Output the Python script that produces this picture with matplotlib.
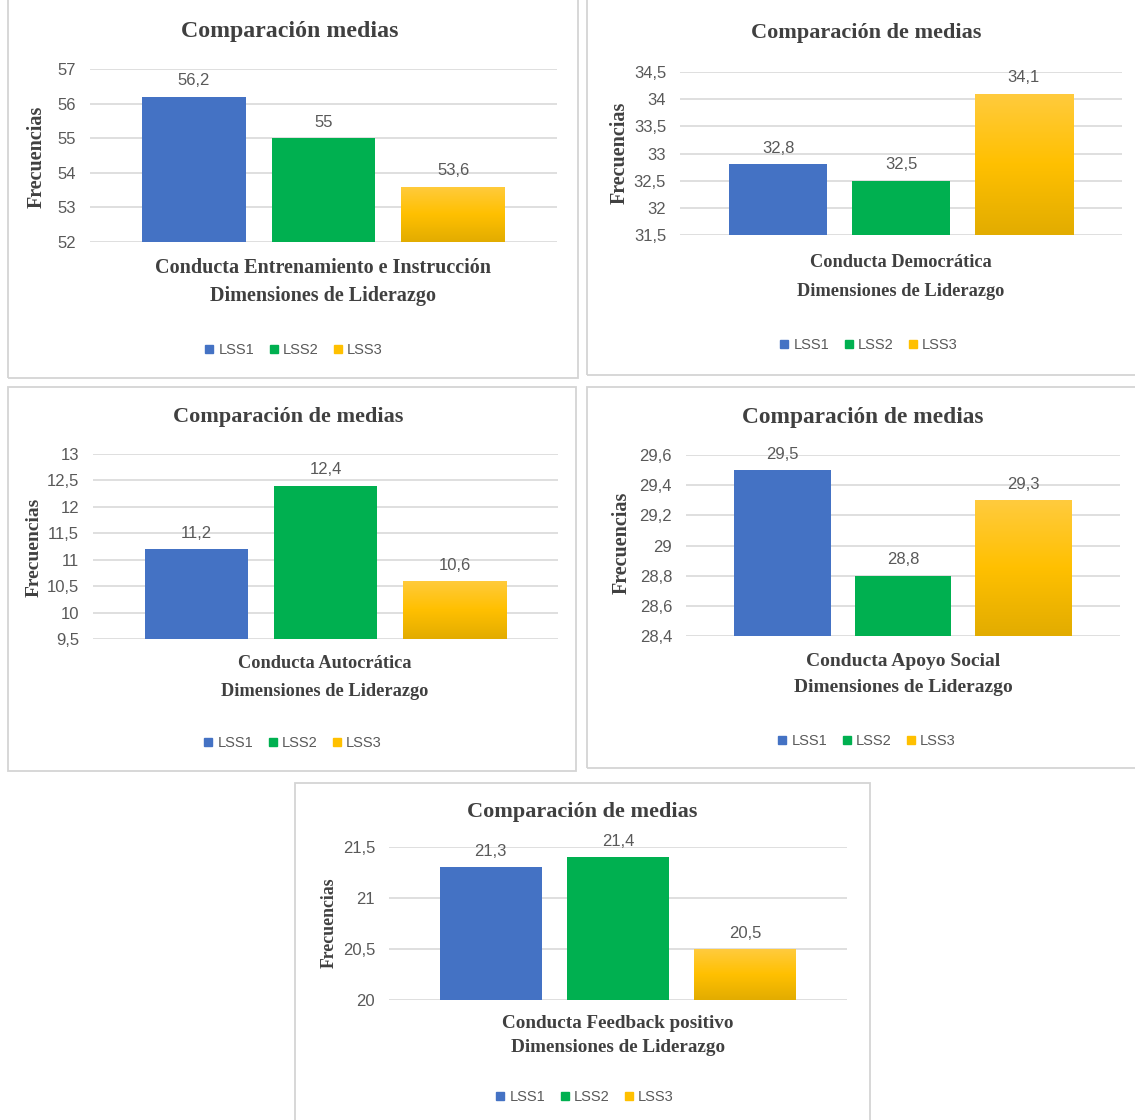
import numpy as np
import matplotlib
matplotlib.use("Agg")
import matplotlib.pyplot as plt
from matplotlib.colors import LinearSegmentedColormap
from matplotlib.lines import Line2D
from matplotlib.patches import Rectangle
from matplotlib.ticker import FuncFormatter

# ---------------- datos ----------------
SERIES = ['LSS1', 'LSS2', 'LSS3']
TITLES = ['Comparación medias', 'Comparación de medias', 'Comparación de medias',
          'Comparación de medias', 'Comparación de medias']
DIMENSIONS = ['Conducta Entrenamiento e Instrucción', 'Conducta Democrática',
              'Conducta Autocrática', 'Conducta Apoyo Social', 'Conducta Feedback positivo']
X_LABEL = 'Dimensiones de Liderazgo'
Y_LABEL = 'Frecuencias'

entrenamiento = [56.2, 55, 53.6]
democratica = [32.8, 32.5, 34.1]
autocratica = [11.2, 12.4, 10.6]
apoyo_social = [29.5, 28.8, 29.3]
feedback = [21.3, 21.4, 20.5]
VALUES = [entrenamiento, democratica, autocratica, apoyo_social, feedback]

# ejes (min, max, paso)
Y_RANGES = [(52, 57, 1), (31.5, 34.5, 0.5), (9.5, 13, 0.5), (28.4, 29.6, 0.2), (20, 21.5, 0.5)]

# ---------------- estilo ----------------
W, H = 1135, 1120
BLUE, GREEN, YELLOW = '#4472C4', '#00B050', '#FFC000'
YELLOW_CMAP = LinearSegmentedColormap.from_list('amarillo', ['#E2AC00', '#FFC000', '#FFCB3E'])
GRID = '#d9d9d9'
TXT = '#404040'
TICK = '#595959'
BORDER = '#d4d4d4'

SERIF = 'Liberation Serif'
plt.rcParams['font.family'] = ['Liberation Sans', 'DejaVu Sans']

# posiciones en pixeles de cada panel
LAYOUT = [
    dict(box=(8, -5, 578, 378), ax=(90, 557, 69, 242), title=(290, 32, 17.2),
         ylab=(37, 157, 14.5), cat=(323, 268, 296, 14.5), leg=(294, 350)),
    dict(box=(587, -5, 1140, 375), ax=(680, 1122, 72, 235), title=(866, 33, 16),
         ylab=(620, 153, 14.5), cat=(901, 262, 292, 13.2), leg=(869, 345)),
    dict(box=(8, 387, 576, 771), ax=(93, 558, 454, 639), title=(288, 417, 16),
         ylab=(34, 547, 14), cat=(325, 664, 692, 13.2), leg=(293, 743)),
    dict(box=(587, 387, 1140, 768), ax=(686, 1120, 455, 636), title=(863, 417, 16.8),
         ylab=(622, 543, 14.5), cat=(903, 661, 688, 14), leg=(867, 741)),
    dict(box=(295, 783, 870, 1125), ax=(389, 847, 847, 1000), title=(582, 812, 16),
         ylab=(329, 923, 12.8), cat=(618, 1023, 1048, 13.8), leg=(585, 1097)),
]

fig = plt.figure(figsize=(W / 100, H / 100), dpi=100)
fig.patch.set_facecolor('white')

comma = FuncFormatter(lambda v, p: f"{v:g}".replace('.', ','))


def fx(px):
    return px / W


def fy(py):
    return 1 - py / H


for vals, title, dim, (lo, hi, step), lay in zip(VALUES, TITLES, DIMENSIONS, Y_RANGES, LAYOUT):
    bx0, by0, bx1, by1 = lay['box']
    fig.add_artist(Rectangle((fx(bx0), fy(by1)), fx(bx1 - bx0), (by1 - by0) / H,
                             transform=fig.transFigure, fill=False, edgecolor=BORDER, lw=1.3))

    ax0, ax1, aytop, aybot = lay['ax']
    ax = fig.add_axes([fx(ax0), fy(aybot), fx(ax1 - ax0), (aybot - aytop) / H])

    x = np.arange(len(SERIES)) - 1
    heights = [v - lo for v in vals]
    bars = ax.bar(x, heights, bottom=lo, width=0.8, color=[BLUE, GREEN, YELLOW], zorder=2)

    # degradado de la barra amarilla
    p = bars[2]
    img = ax.imshow(np.linspace(0, 1, 256).reshape(-1, 1), cmap=YELLOW_CMAP, origin='lower',
                    aspect='auto', zorder=2.1,
                    extent=(p.get_x(), p.get_x() + p.get_width(), p.get_y(), p.get_y() + p.get_height()))
    img.set_clip_path(p)

    for xi, v in zip(x, vals):
        ax.annotate(f"{v:g}".replace('.', ','), (xi, v), xytext=(0, 6), textcoords='offset points',
                    ha='center', va='bottom', fontsize=12, color=TICK, zorder=3)

    ax.set_xlim(-1.8, 1.8)
    ax.set_ylim(lo, hi)
    ax.set_yticks(np.round(np.arange(lo, hi + step / 2, step), 2))
    ax.yaxis.set_major_formatter(comma)
    ax.set_xticks([])
    ax.tick_params(axis='y', length=0, pad=10, labelsize=12, labelcolor=TICK)
    ax.yaxis.grid(True, color=GRID, lw=1.2)
    ax.set_axisbelow(True)
    for s in ax.spines.values():
        s.set_visible(False)

    tx, ty, ts = lay['title']
    fig.text(fx(tx), fy(ty), title, ha='center', va='center', fontsize=ts,
             family=SERIF, weight='bold', color=TXT)
    lx, ly, ls = lay['ylab']
    fig.text(fx(lx), fy(ly), Y_LABEL, ha='center', va='center', rotation=90, fontsize=ls,
             family=SERIF, weight='bold', color=TXT)
    cx, cy1, cy2, cs = lay['cat']
    fig.text(fx(cx), fy(cy1), dim, ha='center', va='center', fontsize=cs,
             family=SERIF, weight='bold', color=TXT)
    fig.text(fx(cx), fy(cy2), X_LABEL, ha='center', va='center', fontsize=cs,
             family=SERIF, weight='bold', color=TXT)

    handles = [Line2D([], [], marker='s', ls='none', markersize=6, color=c)
               for c in [BLUE, GREEN, YELLOW]]
    gx, gy = lay['leg']
    ax.legend(handles, SERIES, loc='center', bbox_to_anchor=(fx(gx), fy(gy)),
              bbox_transform=fig.transFigure, ncol=3, frameon=False,
              prop={'size': 10.5}, labelcolor=TICK,
              handlelength=0.6, handletextpad=0.35, columnspacing=1.0)

fig.savefig('out.png', dpi=100, facecolor='white')
